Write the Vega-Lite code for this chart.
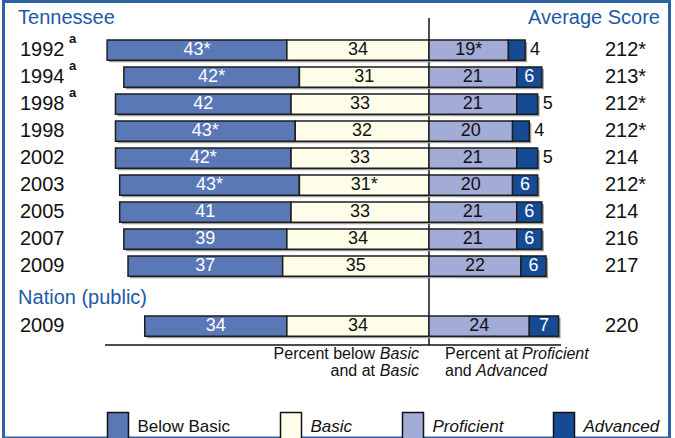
{
  "$schema": "https://vega.github.io/schema/vega-lite/v6.json",
  "width": 666,
  "height": 436.5,
  "autosize": "none",
  "padding": {"left": 3.5, "top": 1.5, "right": 5.5, "bottom": 0},
  "background": "white",
  "config": {
    "view": {"stroke": "#2f62a3", "strokeWidth": 3},
    "text": {"font": "Liberation Sans"},
    "legend": {
      "orient": "none", "legendX": 99.5, "legendY": 410, "direction": "horizontal", "padding": 0,
      "title": null, "labelFont": "Liberation Sans", "labelFontSize": 17, "labelColor": "#111",
      "labelOffset": 4.5, "columnPadding": 45, "symbolSize": 784,
      "symbolType": "M-0.75,-1H0.75V1H-0.75Z", "symbolStrokeColor": "#111", "symbolStrokeWidth": 1.5,
      "symbolOpacity": 1
    }
  },
  "datasets": {
    "tnbars": [
      {"row": "1992a", "level": "Below Basic", "value": -43, "label": "43*"},
      {"row": "1992a", "level": "Basic", "value": -34, "label": "34"},
      {"row": "1992a", "level": "Proficient", "value": 19, "label": "19*"},
      {"row": "1992a", "level": "Advanced", "value": 4, "label": "4"},
      {"row": "1994a", "level": "Below Basic", "value": -42, "label": "42*"},
      {"row": "1994a", "level": "Basic", "value": -31, "label": "31"},
      {"row": "1994a", "level": "Proficient", "value": 21, "label": "21"},
      {"row": "1994a", "level": "Advanced", "value": 6, "label": "6"},
      {"row": "1998a", "level": "Below Basic", "value": -42, "label": "42"},
      {"row": "1998a", "level": "Basic", "value": -33, "label": "33"},
      {"row": "1998a", "level": "Proficient", "value": 21, "label": "21"},
      {"row": "1998a", "level": "Advanced", "value": 5, "label": "5"},
      {"row": "1998", "level": "Below Basic", "value": -43, "label": "43*"},
      {"row": "1998", "level": "Basic", "value": -32, "label": "32"},
      {"row": "1998", "level": "Proficient", "value": 20, "label": "20"},
      {"row": "1998", "level": "Advanced", "value": 4, "label": "4"},
      {"row": "2002", "level": "Below Basic", "value": -42, "label": "42*"},
      {"row": "2002", "level": "Basic", "value": -33, "label": "33"},
      {"row": "2002", "level": "Proficient", "value": 21, "label": "21"},
      {"row": "2002", "level": "Advanced", "value": 5, "label": "5"},
      {"row": "2003", "level": "Below Basic", "value": -43, "label": "43*"},
      {"row": "2003", "level": "Basic", "value": -31, "label": "31*"},
      {"row": "2003", "level": "Proficient", "value": 20, "label": "20"},
      {"row": "2003", "level": "Advanced", "value": 6, "label": "6"},
      {"row": "2005", "level": "Below Basic", "value": -41, "label": "41"},
      {"row": "2005", "level": "Basic", "value": -33, "label": "33"},
      {"row": "2005", "level": "Proficient", "value": 21, "label": "21"},
      {"row": "2005", "level": "Advanced", "value": 6, "label": "6"},
      {"row": "2007", "level": "Below Basic", "value": -39, "label": "39"},
      {"row": "2007", "level": "Basic", "value": -34, "label": "34"},
      {"row": "2007", "level": "Proficient", "value": 21, "label": "21"},
      {"row": "2007", "level": "Advanced", "value": 6, "label": "6"},
      {"row": "2009", "level": "Below Basic", "value": -37, "label": "37"},
      {"row": "2009", "level": "Basic", "value": -35, "label": "35"},
      {"row": "2009", "level": "Proficient", "value": 22, "label": "22"},
      {"row": "2009", "level": "Advanced", "value": 6, "label": "6"}
    ],
    "tnrows": [
      {"row": "1992a", "year": "1992", "note": "a", "score": "212*"},
      {"row": "1994a", "year": "1994", "note": "a", "score": "213*"},
      {"row": "1998a", "year": "1998", "note": "a", "score": "212*"},
      {"row": "1998", "year": "1998", "note": "", "score": "212*"},
      {"row": "2002", "year": "2002", "note": "", "score": "214"},
      {"row": "2003", "year": "2003", "note": "", "score": "212*"},
      {"row": "2005", "year": "2005", "note": "", "score": "214"},
      {"row": "2007", "year": "2007", "note": "", "score": "216"},
      {"row": "2009", "year": "2009", "note": "", "score": "217"}
    ],
    "nbars": [
      {"row": "2009", "level": "Below Basic", "value": -34, "label": "34"},
      {"row": "2009", "level": "Basic", "value": -34, "label": "34"},
      {"row": "2009", "level": "Proficient", "value": 24, "label": "24"},
      {"row": "2009", "level": "Advanced", "value": 7, "label": "7"}
    ],
    "nrows": [
      {"row": "2009", "year": "2009", "note": "", "score": "220"}
    ],
    "headers": [
      {"h": "Tennessee"},
      {"h": "Nation (public)"}
    ]
  },
  "encoding": {
    "x": {"type": "quantitative", "scale": {"domain": [-101.79, 57.54], "nice": false, "zero": false}, "axis": null}
  },
  "layer": [
    {
      "data": {"name": "headers"},
      "encoding": {
        "y": {"field": "h", "type": "nominal", "scale": {"type": "point", "domain": ["Tennessee", "Nation (public)"], "range": [16.5, 296.5], "padding": 0}, "axis": null}
      },
      "layer": [
        {
          "mark": {"type": "text", "align": "left", "baseline": "middle", "fontSize": 20, "color": "#2159a5"},
          "encoding": {"x": {"datum": -98.3, "type": "quantitative"}, "text": {"field": "h"}}
        },
        {
          "transform": [{"filter": "datum.h == 'Tennessee'"}],
          "mark": {"type": "text", "align": "right", "baseline": "middle", "fontSize": 20, "color": "#2159a5"},
          "encoding": {"x": {"datum": 55.26, "type": "quantitative"}, "text": {"value": "Average Score"}}
        },
        {
          "transform": [{"filter": "datum.h == 'Tennessee'"}],
          "mark": {"type": "rule", "color": "#111", "strokeWidth": 1.5, "y2Offset": 47},
          "encoding": {"x": {"datum": 0, "type": "quantitative"}, "y": {"datum": "Tennessee"}, "y2": {"datum": "Nation (public)"}}
        }
      ]
    },
    {
      "encoding": {
        "y": {"field": "row", "type": "nominal", "scale": {"type": "band", "domain": ["1992a", "1994a", "1998a", "1998", "2002", "2003", "2005", "2007", "2009"], "range": [35, 278], "paddingInner": 0.25, "paddingOuter": 0.125}, "axis": null}
      },
      "layer": [
        {
          "data": {"name": "tnbars"},
          "mark": {"type": "bar", "color": "#9d9d9d", "xOffset": 2, "yOffset": 2},
          "encoding": {"x": {"field": "value", "stack": "zero"}, "detail": {"field": "level"}}
        },
        {
          "data": {"name": "tnbars"},
          "transform": [{"filter": "datum.value < 0"}],
          "mark": {"type": "bar", "stroke": "#1e1e1e", "strokeWidth": 1.5},
          "encoding": {
            "x": {"field": "value", "stack": "zero"},
            "order": {"field": "level", "sort": "ascending"},
            "color": {"field": "level", "type": "nominal", "scale": {"domain": ["Below Basic", "Basic", "Proficient", "Advanced"], "range": ["#5a77b6", "#fdfde9", "#a3acd7", "#154b95"]}, "legend": {"encode": {"labels": {"update": {"fontStyle": {"signal": "datum.label == 'Below Basic' ? 'normal' : 'italic'"}}}}}}
          }
        },
        {
          "data": {"name": "tnbars"},
          "transform": [{"filter": "datum.value > 0"}],
          "mark": {"type": "bar", "stroke": "#1e1e1e", "strokeWidth": 1.5},
          "encoding": {
            "x": {"field": "value", "stack": "zero"},
            "order": {"field": "level", "sort": "descending"},
            "color": {"field": "level", "type": "nominal"}
          }
        },
        {
          "data": {"name": "tnbars"},
          "transform": [{"filter": "datum.value < 0"}],
          "mark": {"type": "text", "baseline": "middle", "fontSize": 18},
          "encoding": {
            "x": {"field": "value", "stack": "zero", "bandPosition": 0.5},
            "order": {"field": "level", "sort": "ascending"},
            "detail": {"field": "level"},
            "text": {"field": "label"},
            "color": {"condition": {"test": "datum.level == 'Below Basic'", "value": "white"}, "value": "#111"}
          }
        },
        {
          "data": {"name": "tnbars"},
          "transform": [{"filter": "datum.value > 0"}],
          "mark": {"type": "text", "baseline": "middle", "fontSize": 18},
          "encoding": {
            "x": {"field": "value", "stack": "zero", "bandPosition": 0.5},
            "order": {"field": "level", "sort": "descending"},
            "detail": {"field": "level"},
            "text": {"condition": {"test": "datum.level == 'Advanced' && datum.value < 6", "value": ""}, "field": "label"},
            "color": {"condition": {"test": "datum.level == 'Advanced'", "value": "white"}, "value": "#111"}
          }
        },
        {
          "data": {"name": "tnbars"},
          "transform": [{"filter": "datum.value > 0"}],
          "mark": {"type": "text", "baseline": "middle", "align": "left", "dx": 5, "fontSize": 18, "color": "#111"},
          "encoding": {
            "x": {"field": "value", "stack": "zero"},
            "order": {"field": "level", "sort": "descending"},
            "detail": {"field": "level"},
            "text": {"condition": {"test": "datum.level == 'Advanced' && datum.value < 6", "field": "label"}, "value": ""}
          }
        },
        {
          "data": {"name": "tnrows"},
          "mark": {"type": "text", "align": "left", "baseline": "middle", "fontSize": 20, "color": "#111"},
          "encoding": {"x": {"datum": -97.85, "type": "quantitative"}, "text": {"field": "year"}}
        },
        {
          "data": {"name": "tnrows"},
          "mark": {"type": "text", "align": "left", "baseline": "middle", "fontSize": 13, "fontWeight": "bold", "color": "#111", "dx": 49, "dy": -11},
          "encoding": {"x": {"datum": -97.85, "type": "quantitative"}, "text": {"field": "note"}}
        },
        {
          "data": {"name": "tnrows"},
          "mark": {"type": "text", "align": "left", "baseline": "middle", "fontSize": 20, "color": "#111"},
          "encoding": {"x": {"datum": 42.1, "type": "quantitative"}, "text": {"field": "score"}}
        }
      ]
    },
    {
      "encoding": {
        "y": {"field": "row", "type": "nominal", "scale": {"type": "band", "domain": ["2009"], "range": [311, 338], "paddingInner": 0.25, "paddingOuter": 0.125}, "axis": null}
      },
      "layer": [
        {
          "data": {"name": "nbars"},
          "mark": {"type": "bar", "color": "#9d9d9d", "xOffset": 2, "yOffset": 2},
          "encoding": {"x": {"field": "value", "stack": "zero"}, "detail": {"field": "level"}}
        },
        {
          "data": {"name": "nbars"},
          "transform": [{"filter": "datum.value < 0"}],
          "mark": {"type": "bar", "stroke": "#1e1e1e", "strokeWidth": 1.5},
          "encoding": {
            "x": {"field": "value", "stack": "zero"},
            "order": {"field": "level", "sort": "ascending"},
            "color": {"field": "level", "type": "nominal"}
          }
        },
        {
          "data": {"name": "nbars"},
          "transform": [{"filter": "datum.value > 0"}],
          "mark": {"type": "bar", "stroke": "#1e1e1e", "strokeWidth": 1.5},
          "encoding": {
            "x": {"field": "value", "stack": "zero"},
            "order": {"field": "level", "sort": "descending"},
            "color": {"field": "level", "type": "nominal"}
          }
        },
        {
          "data": {"name": "nbars"},
          "transform": [{"filter": "datum.value < 0"}],
          "mark": {"type": "text", "baseline": "middle", "fontSize": 18},
          "encoding": {
            "x": {"field": "value", "stack": "zero", "bandPosition": 0.5},
            "order": {"field": "level", "sort": "ascending"},
            "detail": {"field": "level"},
            "text": {"field": "label"},
            "color": {"condition": {"test": "datum.level == 'Below Basic'", "value": "white"}, "value": "#111"}
          }
        },
        {
          "data": {"name": "nbars"},
          "transform": [{"filter": "datum.value > 0"}],
          "mark": {"type": "text", "baseline": "middle", "fontSize": 18},
          "encoding": {
            "x": {"field": "value", "stack": "zero", "bandPosition": 0.5},
            "order": {"field": "level", "sort": "descending"},
            "detail": {"field": "level"},
            "text": {"field": "label"},
            "color": {"condition": {"test": "datum.level == 'Advanced'", "value": "white"}, "value": "#111"}
          }
        },
        {
          "data": {"name": "nrows"},
          "mark": {"type": "text", "align": "left", "baseline": "middle", "fontSize": 20, "color": "#111"},
          "encoding": {"x": {"datum": -97.85, "type": "quantitative"}, "text": {"field": "year"}}
        },
        {
          "data": {"name": "nrows"},
          "mark": {"type": "text", "align": "left", "baseline": "middle", "fontSize": 20, "color": "#111"},
          "encoding": {"x": {"datum": 42.1, "type": "quantitative"}, "text": {"field": "score"}}
        },
        {
          "data": {"name": "nrows"},
          "mark": {"type": "rule", "color": "#111", "strokeWidth": 1.5, "yOffset": 19},
          "encoding": {"y": {"field": "row"}, "x": {"datum": -77.5, "type": "quantitative"}, "x2": {"datum": 31.6}}
        },
        {
          "data": {"name": "nrows"},
          "mark": {"type": "text", "align": "right", "baseline": "middle", "fontSize": 16, "color": "#111", "dy": 28, "dx": -44},
          "encoding": {"x": {"datum": -2.39, "type": "quantitative"}, "text": {"value": "Percent below"}}
        },
        {
          "data": {"name": "nrows"},
          "mark": {"type": "text", "align": "right", "baseline": "middle", "fontSize": 16, "fontStyle": "italic", "color": "#111", "dy": 28},
          "encoding": {"x": {"datum": -2.39, "type": "quantitative"}, "text": {"value": "Basic"}}
        },
        {
          "data": {"name": "nrows"},
          "mark": {"type": "text", "align": "right", "baseline": "middle", "fontSize": 16, "color": "#111", "dy": 45, "dx": -44},
          "encoding": {"x": {"datum": -2.39, "type": "quantitative"}, "text": {"value": "and at"}}
        },
        {
          "data": {"name": "nrows"},
          "mark": {"type": "text", "align": "right", "baseline": "middle", "fontSize": 16, "fontStyle": "italic", "color": "#111", "dy": 45},
          "encoding": {"x": {"datum": -2.39, "type": "quantitative"}, "text": {"value": "Basic"}}
        },
        {
          "data": {"name": "nrows"},
          "mark": {"type": "text", "align": "left", "baseline": "middle", "fontSize": 16, "color": "#111", "dy": 28},
          "encoding": {"x": {"datum": 3.83, "type": "quantitative"}, "text": {"value": "Percent at"}}
        },
        {
          "data": {"name": "nrows"},
          "mark": {"type": "text", "align": "left", "baseline": "middle", "fontSize": 16, "fontStyle": "italic", "color": "#111", "dy": 28, "dx": 77},
          "encoding": {"x": {"datum": 3.83, "type": "quantitative"}, "text": {"value": "Proficient"}}
        },
        {
          "data": {"name": "nrows"},
          "mark": {"type": "text", "align": "left", "baseline": "middle", "fontSize": 16, "color": "#111", "dy": 45},
          "encoding": {"x": {"datum": 3.83, "type": "quantitative"}, "text": {"value": "and"}}
        },
        {
          "data": {"name": "nrows"},
          "mark": {"type": "text", "align": "left", "baseline": "middle", "fontSize": 16, "fontStyle": "italic", "color": "#111", "dy": 45, "dx": 31},
          "encoding": {"x": {"datum": 3.83, "type": "quantitative"}, "text": {"value": "Advanced"}}
        }
      ]
    }
  ],
  "resolve": {"scale": {"y": "independent"}}
}
